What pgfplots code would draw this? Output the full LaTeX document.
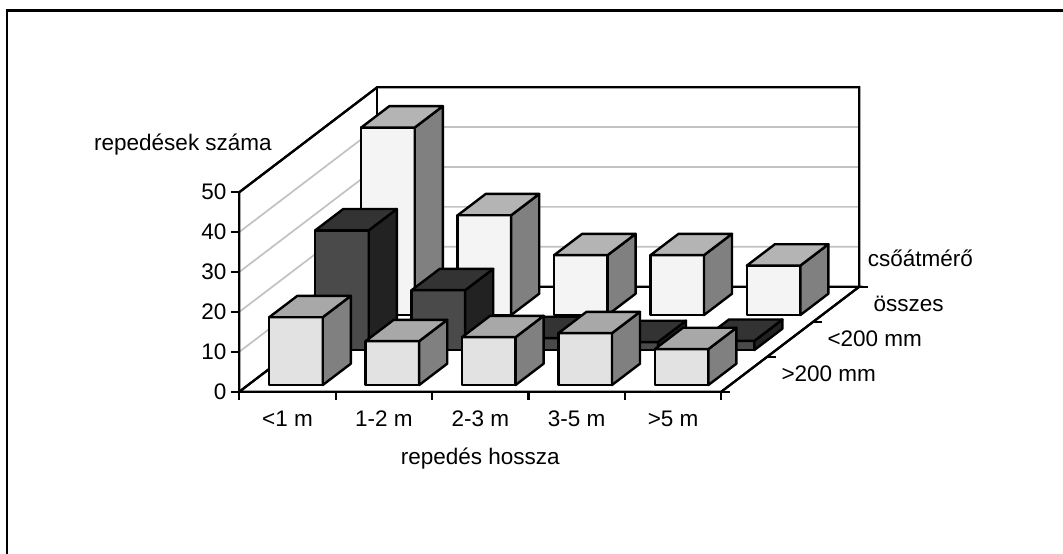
\documentclass[border=0pt]{standalone}
\usepackage{pgfplots}
\pgfplotsset{compat=1.18}
\usepackage{fontspec}
\setmainfont{Liberation Sans}
\definecolor{wf}{HTML}{F4F4F4}\definecolor{wt}{HTML}{B4B4B4}\definecolor{ws}{HTML}{808080}
\definecolor{df}{HTML}{4A4A4A}\definecolor{dt}{HTML}{333333}\definecolor{ds}{HTML}{222222}
\definecolor{lf}{HTML}{E2E2E2}\definecolor{lt}{HTML}{A8A8A8}\definecolor{ls}{HTML}{808080}
% column, row, value, colour prefix
\newcommand{\cub}[4]{%
  \pgfmathsetmacro{\xa}{#1+0.22}\pgfmathsetmacro{\xb}{#1+0.775}%
  \pgfmathsetmacro{\ya}{#2+0.19}\pgfmathsetmacro{\yb}{#2+0.80}%
  \edef\tmp{\noexpand\addplot3[forget plot,fill=#4f,bar]
    coordinates {(\xa,\ya,0) (\xb,\ya,0) (\xb,\ya,#3) (\xa,\ya,#3)} -- cycle;
  \noexpand\addplot3[forget plot,fill=#4s,bar]
    coordinates {(\xb,\ya,0) (\xb,\yb,0) (\xb,\yb,#3) (\xb,\ya,#3)} -- cycle;
  \noexpand\addplot3[forget plot,fill=#4t,bar]
    coordinates {(\xa,\ya,#3) (\xb,\ya,#3) (\xb,\yb,#3) (\xa,\yb,#3)} -- cycle;}\tmp}
\pgfplotsset{bar/.style={draw=black,line width=2.4pt,line join=round,mark=none},
  tk/.style={forget plot,black,line width=2.2pt,mark=none},
  gl/.style={forget plot,color=black!24,line width=1.7pt,mark=none}}
\begin{document}
\fontsize{22.5}{26}\selectfont
\begin{tikzpicture}[x=1pt,y=1pt]
\path[use as bounding box] (0,0) rectangle (1063,554);
\draw[line width=2.2pt] (7.3,0) -- (7.3,543.5) -- (1063,543.5);
\begin{axis}[
  at={(239.3pt,162.3pt)},anchor=origin,
  x={(96.4pt,0pt)},y={(46pt,35pt)},z={(0pt,3.99pt)},
  xmin=0,xmax=5,ymin=0,ymax=3,zmin=0,zmax=50,
  clip=false,
  axis line style={line width=2.2pt},
  /pgf/number format/assume math mode=true,
  ztick={0,10,...,50},
  xtick={0.5,1.5,2.5,3.5,4.5},
  xticklabels={<1 m,1-2 m,2-3 m,3-5 m,>5 m},
  ytick={0.5,1.5,2.5},
  yticklabels={>200 mm,<200 mm,összes},
  tick align=outside,
  major tick length=0pt,minor tick length=0pt,
  tick style={draw=none},
  xmajorgrids=false,ymajorgrids=false,zmajorgrids=false,
  xlabel={repedés hossza},
  ylabel={csőátmérő},
  zlabel={repedések száma},
  every axis x label/.style={at={(axis cs:2.5,0,0)},anchor=center,inner sep=0pt,yshift=-66.5pt},
  every axis y label/.style={at={(axis cs:5,3,0)},anchor=west,inner sep=0pt,xshift=8.4pt,yshift=28.7pt},
  every axis z label/.style={at={(axis cs:0,0,50)},anchor=west,inner sep=0pt,rotate=0,xshift=-145.3pt,yshift=47.5pt},
  every x tick label/.style={anchor=center,inner sep=0pt,yshift=-27pt},
  every y tick label/.style={anchor=west,inner sep=0pt,xshift=37pt},
  every z tick label/.style={anchor=east,inner sep=0pt,xshift=-12.6pt},
]
% grid lines on the walls
\addplot3[gl] coordinates {(0,0,10) (0,3,10) (5,3,10)};
\addplot3[gl] coordinates {(0,0,20) (0,3,20) (5,3,20)};
\addplot3[gl] coordinates {(0,0,30) (0,3,30) (5,3,30)};
\addplot3[gl] coordinates {(0,0,40) (0,3,40) (5,3,40)};
% walls and floor
\addplot3[tk] coordinates {(0,0,0) (0,0,50) (0,3,50) (5,3,50) (5,3,0)};
\addplot3[tk] coordinates {(0,3,50) (0,3,0)};
\addplot3[tk] coordinates {(0,0,0) (0,3,0) (5,3,0) (5,0,0) (0,0,0)};
% tick marks
\addplot3[tk] coordinates {(0,0,0) (0,0,-2.13)};
\addplot3[tk] coordinates {(1,0,0) (1,0,-2.13)};
\addplot3[tk] coordinates {(2,0,0) (2,0,-2.13)};
\addplot3[tk] coordinates {(3,0,0) (3,0,-2.13)};
\addplot3[tk] coordinates {(4,0,0) (4,0,-2.13)};
\addplot3[tk] coordinates {(5,0,0) (5,0,-2.13)};
\addplot3[tk] coordinates {(5,0,0) (5.088,0,0)};
\addplot3[tk] coordinates {(5,1,0) (5.088,1,0)};
\addplot3[tk] coordinates {(5,2,0) (5.088,2,0)};
\addplot3[tk] coordinates {(5,3,0) (5.088,3,0)};
\addplot3[tk] coordinates {(0,0,0) (-0.088,0,0)};
\addplot3[tk] coordinates {(0,0,10) (-0.088,0,10)};
\addplot3[tk] coordinates {(0,0,20) (-0.088,0,20)};
\addplot3[tk] coordinates {(0,0,30) (-0.088,0,30)};
\addplot3[tk] coordinates {(0,0,40) (-0.088,0,40)};
\addplot3[tk] coordinates {(0,0,50) (-0.088,0,50)};
% bars: back row, middle row, front row
\cub{0}{2}{47}{w}\cub{1}{2}{25}{w}\cub{2}{2}{15}{w}\cub{3}{2}{15}{w}\cub{4}{2}{12.4}{w}
\cub{0}{1}{30}{d}\cub{1}{1}{15}{d}\cub{2}{1}{3}{d}\cub{3}{1}{2}{d}\cub{4}{1}{2.3}{d}
\cub{0}{0}{17}{l}\cub{1}{0}{11}{l}\cub{2}{0}{12}{l}\cub{3}{0}{13}{l}\cub{4}{0}{9}{l}
\end{axis}
\end{tikzpicture}
\end{document}
